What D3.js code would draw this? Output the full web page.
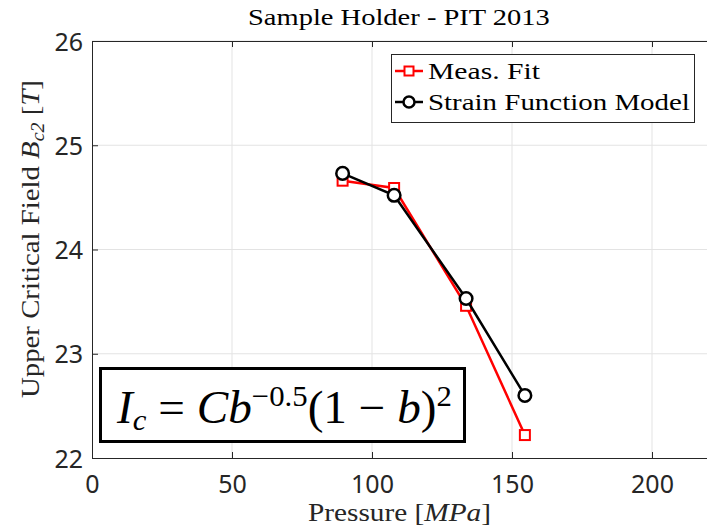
<!DOCTYPE html>
<html>
<head>
<meta charset="utf-8">
<script src="https://cdn.jsdelivr.net/npm/d3@7"></script>
<style>
  body { margin: 0; background: #fff; }
</style>
</head>
<body>
<div id="chart"></div>
<script>
// values
var pressure = [89.5, 107.9, 133.6, 154.6];
var measFit = [24.66, 24.59, 23.46, 22.22];
var strainModel = [24.73, 24.52, 23.53, 22.60];
var xTicks = [0, 50, 100, 150, 200];
var yTicks = [22, 23, 24, 25, 26];
var seriesNames = ['Meas. Fit', 'Strain Function Model'];

var W = 707, H = 528;
var margin = {left: 92, top: 41, right: -1, bottom: 70};

var svg = d3.select('#chart').append('svg')
    .attr('width', W).attr('height', H);

var x = d3.scaleLinear().domain([0, 220]).range([margin.left, W - margin.right]);
var y = d3.scaleLinear().domain([22, 26]).range([H - margin.bottom, margin.top]);

var serif = "'Liberation Serif', 'DejaVu Serif', serif";
var sans = "'Noto Sans', 'DejaVu Sans', sans-serif";

// stretch a text horizontally so it fills the given width (LaTeX fonts are wider)
var fitWidth = function (text, width) {
    var w = text.node().getComputedTextLength();
    text.attr('transform', 'scale(' + (width / w) + ',1)');
};

// grid
svg.append('g').selectAll('line').data(xTicks.slice(1)).enter().append('line')
    .attr('x1', function(d) { return x(d); }).attr('x2', function(d) { return x(d); })
    .attr('y1', y(22)).attr('y2', y(26))
    .attr('stroke', '#e3e3e3').attr('stroke-width', 1);
svg.append('g').selectAll('line').data(yTicks.slice(1)).enter().append('line')
    .attr('y1', function(d) { return y(d); }).attr('y2', function(d) { return y(d); })
    .attr('x1', x(0)).attr('x2', x(220))
    .attr('stroke', '#e3e3e3').attr('stroke-width', 1);

// axes
var xAxis = svg.append('g').attr('transform', 'translate(0,' + y(22) + ')')
    .call(d3.axisBottom(x).tickValues(xTicks).tickSize(-6).tickPadding(17));
var xTop = svg.append('g').attr('transform', 'translate(0,' + y(26) + ')')
    .call(d3.axisTop(x).tickValues(xTicks).tickSize(-6).tickFormat(''));
var yAxis = svg.append('g').attr('transform', 'translate(' + x(0) + ',0)')
    .call(d3.axisLeft(y).tickValues(yTicks).tickSize(-6).tickPadding(9).tickFormat(d3.format('d')));
[xAxis, xTop, yAxis].forEach(function(a) {
    a.select('.domain').attr('stroke', '#262626').attr('stroke-width', 1);
    a.selectAll('.tick line').attr('stroke', '#262626');
    a.selectAll('.tick text').attr('font-family', sans).attr('font-size', 25)
        .attr('fill', '#262626');
});
xAxis.selectAll('.tick text').attr('dy', '0.71em');
yAxis.selectAll('.tick text').attr('dy', '0.36em');

// series
var line = d3.line()
    .x(function(d) { return x(d[0]); })
    .y(function(d) { return y(d[1]); });

var redPts = pressure.map(function(p, i) { return [p, measFit[i]]; });
var blackPts = pressure.map(function(p, i) { return [p, strainModel[i]]; });

svg.append('path').datum(redPts).attr('d', line)
    .attr('fill', 'none').attr('stroke', '#ff0000').attr('stroke-width', 2.5);
svg.append('g').selectAll('rect').data(redPts).enter().append('rect')
    .attr('x', function(d) { return x(d[0]) - 5; })
    .attr('y', function(d) { return y(d[1]) - 5; })
    .attr('width', 10).attr('height', 10)
    .attr('fill', '#fff').attr('stroke', '#ff0000').attr('stroke-width', 2);

svg.append('path').datum(blackPts).attr('d', line)
    .attr('fill', 'none').attr('stroke', '#000').attr('stroke-width', 2.5);
svg.append('g').selectAll('circle').data(blackPts).enter().append('circle')
    .attr('cx', function(d) { return x(d[0]); })
    .attr('cy', function(d) { return y(d[1]); })
    .attr('r', 6.3)
    .attr('fill', '#fff').attr('stroke', '#000').attr('stroke-width', 2.5);

// title and labels
var title = svg.append('g').attr('transform', 'translate(248,25)')
    .append('text').attr('font-family', serif).attr('font-size', 22.5)
    .attr('fill', '#000').text('Sample Holder - PIT 2013');
fitWidth(title, 302);

var xl = svg.append('g').attr('transform', 'translate(308,521)')
    .append('text').attr('font-family', serif).attr('font-size', 26).attr('fill', '#262626');
xl.append('tspan').text('Pressure ');
xl.append('tspan').text('[');
xl.append('tspan').attr('font-style', 'italic').text('MPa');
xl.append('tspan').text(']');
fitWidth(xl, 183);

var yl = svg.append('g').attr('transform', 'translate(38.5,398) rotate(-90)')
    .append('text').attr('font-family', serif).attr('font-size', 26).attr('fill', '#262626');
yl.append('tspan').text('Upper Critical Field ');
yl.append('tspan').attr('font-style', 'italic').text('B');
yl.append('tspan').attr('font-style', 'italic').attr('font-size', 18).attr('dy', 5).text('c2');
yl.append('tspan').attr('dy', -5).text(' [');
yl.append('tspan').attr('font-style', 'italic').text('T');
yl.append('tspan').text(']');
fitWidth(yl, 318);

// legend
var leg = svg.append('g');
leg.append('rect').attr('x', 391.5).attr('y', 54.5).attr('width', 303).attr('height', 68)
    .attr('fill', '#fff').attr('stroke', '#262626').attr('stroke-width', 1);
var legColors = ['#ff0000', '#000'];
var legWidths = [112, 262];
seriesNames.forEach(function(name, i) {
    var cy = 71 + i * 31;
    leg.append('line').attr('x1', 395).attr('x2', 423).attr('y1', cy).attr('y2', cy)
        .attr('stroke', legColors[i]).attr('stroke-width', 2.5);
    if (i === 0) {
        leg.append('rect').attr('x', 404.5).attr('y', cy - 4.5).attr('width', 9).attr('height', 9)
            .attr('fill', '#fff').attr('stroke', legColors[i]).attr('stroke-width', 2);
    } else {
        leg.append('circle').attr('cx', 409).attr('cy', cy).attr('r', 5.5)
            .attr('fill', '#fff').attr('stroke', legColors[i]).attr('stroke-width', 2.5);
    }
    var t = leg.append('g').attr('transform', 'translate(428,' + (cy + 8) + ')')
        .append('text').attr('font-family', serif).attr('font-size', 23).attr('fill', '#000')
        .text(name);
    fitWidth(t, legWidths[i]);
});

// equation box
svg.append('rect').attr('x', 100.5).attr('y', 368.5).attr('width', 364).attr('height', 73)
    .attr('fill', '#fff').attr('stroke', '#000').attr('stroke-width', 3);
var eq = svg.append('g').attr('transform', 'translate(117,423)')
    .append('text').attr('font-family', serif).attr('font-size', 46).attr('fill', '#000');
eq.append('tspan').attr('font-style', 'italic').text('I');
eq.append('tspan').attr('font-style', 'italic').attr('font-size', 30).attr('dy', 7).text('c');
eq.append('tspan').attr('dy', -7).text(' = ');
eq.append('tspan').attr('font-style', 'italic').text('Cb');
eq.append('tspan').attr('font-size', 30).attr('dy', -17).text('\u22120.5');
eq.append('tspan').attr('dy', 17).text('(1 \u2212 ');
eq.append('tspan').attr('font-style', 'italic').text('b');
eq.append('tspan').text(')');
eq.append('tspan').attr('font-size', 30).attr('dy', -17).text('2');
fitWidth(eq, 335);
</script>
</body>
</html>
